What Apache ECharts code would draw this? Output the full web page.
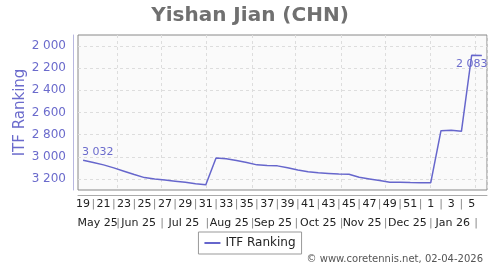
<!DOCTYPE html>
<html>
<head>
<meta charset="utf-8">
<script src="https://cdn.jsdelivr.net/npm/echarts@6/dist/echarts.min.js"></script>
<style>html,body{margin:0;padding:0;background:#fff}#c{width:500px;height:270px}</style>
</head>
<body>
<div id="c"></div>
<script>
// ---- data ----
const titleText = 'Yishan Jian (CHN)';
const seriesName = 'ITF Ranking';
const weeks = [19,20,21,22,23,24,25,26,27,28,29,30,31,32,33,34,35,36,37,38,39,40,41,42,43,44,45,46,47,48,49,50,51,52,1,2,3,4,5,6];
const ranks = [3032,3052,3073,3100,3130,3160,3188,3200,3210,3220,3230,3243,3252,3010,3018,3034,3052,3073,3078,3082,3100,3120,3136,3145,3150,3155,3158,3185,3200,3215,3231,3231,3233,3234,3234,2764,2760,2770,2083,2086];
const labelledPoints = [0, 38];
const yTicks = [2000,2200,2400,2600,2800,3000,3200];
const monthNames = ['Jan','Feb','Mar','Apr','May','Jun','Jul','Aug','Sep','Oct','Nov','Dec'];
const startDate = '2025-05-05';
const footer = '\u00A9 www.coretennis.net, 02-04-2026';

// ---- helpers ----
const fmt = v => String(v).replace(/\B(?=(\d{3})+(?!\d))/g, ' ');
const days = [];
const d0 = new Date(startDate + 'T00:00:00Z');
for (let i = 0; i < weeks.length * 7; i++) {
  days.push(new Date(d0.getTime() + i * 86400000));
}
const dayCats = days.map(d => d.toISOString().slice(0,10));
const monthLabelAt = {};
const monthStartAt = {};
let i0 = 0;
for (let i = 1; i <= days.length; i++) {
  if (i === days.length || days[i].getUTCMonth() !== days[i0].getUTCMonth()) {
    const count = i - i0;
    if (count >= 14) {
      const m = days[i0];
      monthLabelAt[Math.floor((i0 + i - 1) / 2)] = monthNames[m.getUTCMonth()] + ' ' + String(m.getUTCFullYear()).slice(2);
    }
    if (i < days.length) monthStartAt[i] = true;
    i0 = i;
  }
}

const seriesData = ranks.map((v, i) => {
  if (labelledPoints.indexOf(i) >= 0) {
    const first = i === 0;
    return {value: v, label: {show: true, position: first ? 'top' : 'bottom', distance: 3,
      align: first ? 'left' : 'center', offset: first ? [-1, 0] : [0, 0],
      formatter: p => fmt(p.value), color: '#6b6bcc', fontSize: 11, fontFamily: 'DejaVu Sans'}};
  }
  return v;
});

const chart = echarts.init(document.getElementById('c'), null, {renderer: 'canvas'});
chart.setOption({
  animation: false,
  title: [{
    text: titleText, left: 'center', top: 1,
    textStyle: {fontFamily: 'DejaVu Sans', fontWeight: 'bold', fontSize: 20, color: '#707070'}
  }, {
    text: footer, right: 12, bottom: 1,
    textStyle: {fontFamily: 'DejaVu Sans', fontWeight: 'normal', fontSize: 10, color: '#555'}
  }],
  legend: {
    data: [seriesName], left: 'center', top: 232,
    borderColor: '#999', borderWidth: 1, padding: [5, 6],
    itemWidth: 16, itemHeight: 2, icon: 'rect',
    textStyle: {fontFamily: 'DejaVu Sans', fontSize: 12, color: '#222'}
  },
  grid: {
    left: 78, right: 13, top: 35, bottom: 80, show: true, containLabel: false, outerBoundsMode: 'none',
    backgroundColor: '#fafafa', borderColor: '#888', borderWidth: 1
  },
  xAxis: [{
    type: 'category', data: weeks, boundaryGap: true, position: 'bottom', offset: 5,
    axisLine: {show: true, lineStyle: {color: '#aaa', width: 1}},
    axisTick: {show: false},
    splitLine: {show: false},
    axisLabel: {
      interval: 0, margin: 4, fontFamily: 'DejaVu Sans', fontSize: 11, color: '#222',
      formatter: (v, i) => i % 2 === 0 ? String(v) : (i === weeks.length - 1 ? '' : '{s||}'),
      rich: {s: {color: '#888', fontSize: 11, fontFamily: 'DejaVu Sans'}}
    }
  }, {
    type: 'category', data: dayCats, boundaryGap: true, position: 'bottom', offset: 5,
    axisLine: {show: false}, axisTick: {show: false},
    splitLine: {show: true, interval: (i) => !!monthStartAt[i], lineStyle: {color: '#ddd', type: [3, 3], width: 1}},
    axisLabel: {
      interval: 0, margin: 23, fontFamily: 'DejaVu Sans', fontSize: 11, color: '#222',
      formatter: (v, i) => monthLabelAt[i] ? monthLabelAt[i] : (monthStartAt[i] ? '{s||}' : ''),
      rich: {s: {color: '#888', fontSize: 11, fontFamily: 'DejaVu Sans'}}
    }
  }],
  yAxis: {
    type: 'value', inverse: true, min: 1900, max: 3300, interval: 100, offset: 5,
    name: 'ITF Ranking', nameLocation: 'middle', nameGap: 45, nameMoveOverlap: false,
    nameTextStyle: {fontFamily: 'DejaVu Sans', fontSize: 15, color: '#6b6bcc'},
    axisLine: {show: true, lineStyle: {color: '#b8b8e0'}},
    axisTick: {show: false},
    axisLabel: {
      margin: 7, fontFamily: 'DejaVu Sans', fontSize: 12, color: '#6b6bcc',
      formatter: v => yTicks.indexOf(v) >= 0 ? fmt(v) : ''
    },
    splitLine: {show: true, lineStyle: {color: ['rgba(0,0,0,0)', '#ddd'], type: [3, 3], width: 1}}
  },
  series: [{
    name: seriesName, type: 'line', xAxisIndex: 0, data: seriesData,
    showSymbol: true, symbol: 'circle', symbolSize: 0,
    lineStyle: {color: '#6666cc', width: 1.5}, itemStyle: {color: '#6666cc'}
  }]
});
</script>
</body>
</html>
